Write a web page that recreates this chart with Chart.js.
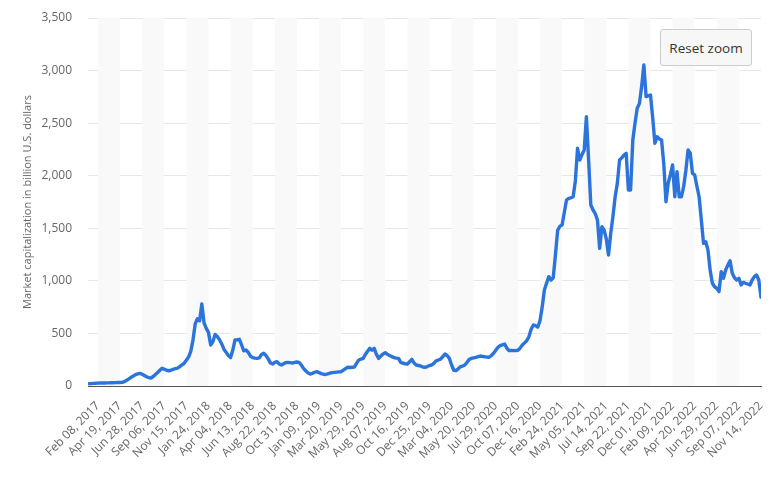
<!DOCTYPE html>
<html>
<head>
<meta charset="utf-8">
<script src="https://cdn.jsdelivr.net/npm/chart.js@4/dist/chart.umd.min.js"></script>
<style>
  body { margin: 0; background: #fff; }
  #wrap { position: relative; width: 780px; height: 488px; }
  #reset {
    position: absolute; left: 660px; top: 29px; width: 92px; height: 37px;
    box-sizing: border-box; background: #f7f7f7; border: 1px solid #cccccc;
    border-radius: 3px; font: 13.5px "Open Sans", sans-serif; color: #333;
    display: flex; align-items: center; justify-content: center;
  }
</style>
</head>
<body>
<div id="wrap">
  <canvas id="chart" width="780" height="488"></canvas>
  <div id="reset">Reset zoom</div>
</div>
<script>
// Data
// weekly values, first one is 4 weeks before the first tick label
const firstWeekOffset = -4;
const marketCap = [
  22, 23, 25, 26, 27, 28, 28, 29, 30, 30,
  31, 31, 32, 33, 33, 35, 42, 55, 68, 83,
  95, 108, 115, 120, 112, 100, 88, 80, 76, 90,
  110, 128, 150, 168, 160, 150, 145, 150, 158, 165,
  170, 185, 200, 216, 245, 275, 330, 437, 590, 640,
  620, 780, 600, 548, 510, 390, 420, 490, 470, 440,
  400, 350, 320, 290, 270, 340, 437, 440, 444, 390,
  335, 342, 320, 285, 270, 265, 263, 268, 300, 311, 290,
  260, 220, 209, 225, 231, 210, 200, 212, 222, 225,
  222, 218, 224, 228, 225, 200, 168, 145, 125, 114,
  120, 130, 136, 128, 118, 112, 110, 115, 122, 127,
  130, 132, 134, 136, 150, 165, 178, 176, 178, 180,
  215, 247, 255, 263, 300, 330, 358, 340, 358, 300,
  263, 285, 305, 317, 300, 290, 279, 270, 265, 263,
  225, 216, 212, 209, 230, 254, 220, 200, 195, 190, 180,
  178, 185, 195, 200, 215, 240, 247, 255, 280, 304,
  290, 263, 200, 150, 146, 165, 184, 190, 200, 225,
  254, 262, 268, 273, 280, 285, 282, 278, 275, 273,
  290, 311, 340, 368, 385, 392, 399, 360, 336, 338,
  336, 337, 340, 360, 390, 410, 431, 470, 540, 580,
  575, 560, 620, 750, 913, 980, 1040, 1008, 1030, 1250,
  1480, 1520, 1531, 1650, 1769, 1785, 1790, 1800, 1950, 2261, 2149,
  2200, 2244, 2561, 2150, 1721, 1674, 1640, 1579, 1309, 1515,
  1484, 1400, 1246, 1450, 1610, 1800, 1927, 2149, 2170, 2197,
  2213, 1864, 1864, 2340, 2500, 2641, 2688, 2850, 3053, 2752,
  2760, 2768, 2550, 2308, 2371, 2350, 2340, 2118, 1753, 1927,
  2010, 2102, 1800, 2038, 1800, 1800, 1896, 2050, 2244, 2213,
  2022, 2007, 1900, 1800, 1579, 1357, 1372, 1293, 1100, 977,
  944, 930, 897, 1087, 1024, 1103, 1150, 1192, 1072, 1030,
  1008, 1024, 961, 985, 977, 970, 961, 1008, 1040, 1056, 1008,
  844
];

// one label every 10 weeks
const tickLabels = [
  'Feb 08, 2017', 'Apr 19, 2017', 'Jun 28, 2017', 'Sep 06, 2017', 'Nov 15, 2017',
  'Jan 24, 2018', 'Apr 04, 2018', 'Jun 13, 2018', 'Aug 22, 2018', 'Oct 31, 2018',
  'Jan 09, 2019', 'Mar 20, 2019', 'May 29, 2019', 'Aug 07, 2019', 'Oct 16, 2019',
  'Dec 25, 2019', 'Mar 04, 2020', 'May 20, 2020', 'Jul 29, 2020', 'Oct 07, 2020',
  'Dec 16, 2020', 'Feb 24, 2021', 'May 05, 2021', 'Jul 14, 2021', 'Sep 22, 2021',
  'Dec 01, 2021', 'Feb 09, 2022', 'Apr 20, 2022', 'Jun 29, 2022', 'Sep 07, 2022',
  'Nov 14, 2022'
];
const tickStep = 10;
const yTicks = [0, 500, 1000, 1500, 2000, 2500, 3000, 3500];
const yTitle = 'Market capitalization in billion U.S. dollars';

// Plugins
// alternating vertical bands between every other pair of ticks
const bandsPlugin = {
  id: 'bands',
  beforeDatasetsDraw(chart) {
    const { ctx, chartArea, scales: { x } } = chart;
    ctx.save();
    ctx.fillStyle = '#f9f9f9';
    for (let i = 0; i < tickLabels.length - 1; i += 2) {
      const x0 = x.getPixelForValue(i * tickStep);
      const x1 = x.getPixelForValue((i + 1) * tickStep);
      ctx.fillRect(x0, chartArea.top, x1 - x0, chartArea.bottom - chartArea.top);
    }
    ctx.restore();
  }
};

// Chart
new Chart(document.getElementById('chart'), {
  type: 'line',
  data: {
    datasets: [{
      data: marketCap.map((v, i) => ({ x: i + firstWeekOffset, y: v })),
      borderColor: '#2a74dc',
      borderWidth: 3.4,
      borderJoinStyle: 'round',
      borderCapStyle: 'round',
      pointRadius: 0,
      tension: 0,
      fill: false
    }]
  },
  options: {
    responsive: false,
    animation: false,
    layout: { padding: { top: 18, right: 19, left: 0, bottom: 0 } },
    plugins: {
      legend: { display: false },
      tooltip: { enabled: false }
    },
    scales: {
      x: {
        type: 'linear',
        min: -4.5,
        max: (tickLabels.length - 1) * tickStep,
        afterBuildTicks: (scale) => {
          scale.ticks = tickLabels.map((_, i) => ({ value: i * tickStep }));
        },
        afterFit: (scale) => {
          scale.height = 102;
          scale.paddingLeft = 0;
          scale.paddingRight = 0;
        },
        grid: { display: false, drawTicks: false },
        border: { display: true, color: '#555', width: 1 },
        ticks: {
          autoSkip: false,
          minRotation: 45,
          maxRotation: 45,
          padding: 13,
          color: '#666',
          font: { family: '"Open Sans", sans-serif', size: 12 },
          callback: (v) => tickLabels[Math.round(v / tickStep)]
        }
      },
      y: {
        min: yTicks[0],
        max: yTicks[yTicks.length - 1],
        afterBuildTicks: (scale) => {
          scale.ticks = yTicks.map(v => ({ value: v }));
        },
        afterFit: (scale) => {
          scale.width = 88;
          scale.paddingTop = 0;
          scale.paddingBottom = 0;
        },
        grid: { color: '#e6e6e6', drawTicks: false },
        border: { display: false },
        ticks: {
          padding: 16,
          color: '#666',
          font: { family: '"Open Sans", sans-serif', size: 12 },
          callback: (v) => v.toLocaleString('en-US')
        },
        title: {
          display: true,
          text: yTitle,
          color: '#666',
          padding: { top: 21, bottom: 0 },
          font: { family: '"Open Sans", sans-serif', size: 11 }
        }
      }
    }
  },
  plugins: [bandsPlugin]
});
</script>
</body>
</html>
